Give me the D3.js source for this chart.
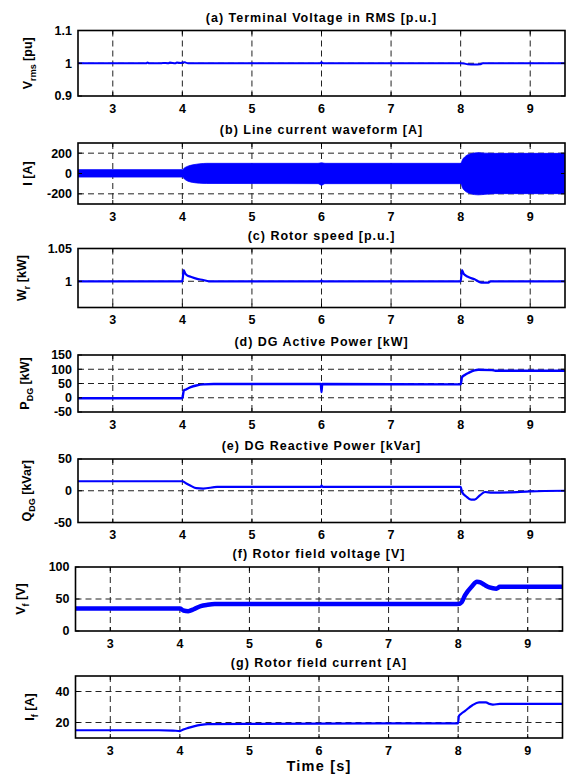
<!DOCTYPE html>
<html><head><meta charset="utf-8">
<script src="https://cdn.jsdelivr.net/npm/d3@7"></script>
<style>
body{margin:0;background:#fff}
text{font-family:"Liberation Sans",Arial,Helvetica,sans-serif;font-weight:bold;fill:#000}
</style>
</head><body>
<svg id="chart" width="569" height="777"></svg>
<script>
// ---------- data ----------
const xTicks = [3, 4, 5, 6, 7, 8, 9];
const titles = [
  "(a) Terminal Voltage in RMS [p.u.]",
  "(b) Line current waveform [A]",
  "(c) Rotor speed [p.u.]",
  "(d) DG Active Power [kW]",
  "(e) DG Reactive Power [kVar]",
  "(f) Rotor field voltage [V]",
  "(g) Rotor field current [A]"
];
const yLabels = [
  ["V", "rms", " [pu]"],
  ["I [A]", "", ""],
  ["W", "r", " [kW]"],
  ["P", "DG", " [kW]"],
  ["Q", "DG", " [kVar]"],
  ["V", "f", " [V]"],
  ["I", "f", " [A]"]
];
const yDomains = [[0.9, 1.1], [-300, 300], [0.96, 1.05], [-50, 150], [-50, 50], [0, 100], [10, 50]];
const yTicksA = [0.9, 1, 1.1];
const yTicksB = [-200, 0, 200];
const yTicksC = [1, 1.05];
const yTicksD = [-50, 0, 50, 100, 150];
const yTicksE = [-50, 0, 50];
const yTicksF = [0, 50, 100];
const yTicksG = [20, 40];
const yTickLabelsA = ["0.9", "1", "1.1"];
const yTickLabelsC = ["1", "1.05"];

// (a) terminal voltage RMS
const aT = [2.5, 3.48, 3.5, 3.52, 3.7, 3.72, 3.8, 3.82, 3.9, 3.92, 3.98, 4.0, 4.03, 4.05, 4.08, 5.98, 6.0, 6.02, 8.0, 8.05, 8.1, 8.2, 8.28, 8.32, 9.5];
const aV = [1, 1, 1.002, 1, 1, 1.001, 1, 1.002, 1, 1.002, 1.001, 1.002, 1.003, 1.002, 1, 1, 1.003, 1, 1, 0.999, 0.997, 0.996, 0.997, 1, 1];
// (b) line current waveform envelope
const bT = [2.5, 4.0, 4.03, 4.08, 4.15, 4.25, 4.35, 5.95, 6.0, 6.05, 8.0, 8.03, 8.08, 8.15, 8.25, 8.35, 8.5, 9.5];
const bUp = [38, 38, 55, 72, 85, 95, 100, 100, 105, 100, 100, 140, 175, 195, 205, 200, 198, 198];
const bLo = [-35, -35, -55, -75, -88, -95, -98, -100, -115, -100, -100, -145, -180, -200, -210, -205, -198, -198];
// (c) rotor speed
const cT = [2.5, 4.0, 4.02, 4.04, 4.07, 4.12, 4.2, 4.3, 4.38, 5.99, 6.0, 6.01, 8.0, 8.02, 8.04, 8.07, 8.12, 8.2, 8.25, 8.3, 8.4, 8.43, 9.5];
const cV = [1, 1, 1.017, 1.012, 1.009, 1.007, 1.004, 1.002, 1, 1, 1.001, 1, 1, 1.017, 1.012, 1.009, 1.006, 1.003, 1.0, 0.998, 0.998, 1.0, 1.0];
// (d) DG active power
const dT = [2.5, 4.0, 4.02, 4.06, 4.12, 4.2, 4.3, 4.45, 5.99, 6.0, 6.01, 8.0, 8.02, 8.06, 8.12, 8.2, 8.25, 8.45, 8.5, 9.5];
const dV = [-2, -2, 25, 30, 37, 43, 47, 48, 48, 20, 48, 47, 72, 80, 88, 96, 98, 97, 95, 95];
// (e) DG reactive power
const eT = [2.5, 4.0, 4.05, 4.12, 4.2, 4.3, 4.5, 5.99, 6.0, 6.02, 8.0, 8.02, 8.08, 8.15, 8.2, 8.28, 8.35, 8.45, 8.7, 9.0, 9.5];
const eV = [15, 15, 12, 8, 4, 3.5, 6, 6, 8, 6, 6, -2, -9, -14, -14, -7, -2, -3, -2.5, -1, 0];
// (f) rotor field voltage
const fT = [2.5, 4.0, 4.05, 4.12, 4.2, 4.3, 4.4, 4.5, 8.0, 8.05, 8.1, 8.2, 8.27, 8.32, 8.38, 8.45, 8.55, 8.6, 8.7, 9.5];
const fV = [35, 35, 32, 31, 34, 39, 41, 42, 42, 45, 56, 70, 77, 76, 72, 68, 66, 69, 69, 69];
// (g) rotor field current
const gT = [2.5, 3.7, 3.9, 4.0, 4.05, 4.12, 4.2, 4.3, 4.4, 6.0, 8.0, 8.01, 8.04, 8.1, 8.2, 8.3, 8.4, 8.45, 8.5, 8.6, 9.5];
const gV = [15, 15, 14.8, 14.5, 15.5, 16.5, 17.5, 18.5, 19, 19.3, 19.5, 24, 25.5, 27.5, 31, 33, 33, 32, 31.5, 32, 32];

// ---------- layout ----------
const layout = [
  {top: 30.5, bottom: 96,    left: 78,   right: 565,   ylx: 32},
  {top: 143,  bottom: 204,   left: 78,   right: 565,   ylx: 32},
  {top: 248.5,bottom: 307.5, left: 78,   right: 565,   ylx: 26},
  {top: 355,  bottom: 412,   left: 78,   right: 565,   ylx: 29},
  {top: 459,  bottom: 522.5, left: 78,   right: 565,   ylx: 31},
  {top: 567,  bottom: 631,   left: 75.5, right: 562.5, ylx: 25},
  {top: 676,  bottom: 738,   left: 75.5, right: 562.5, ylx: 34}
];
const yTickSets = [yTicksA, yTicksB, yTicksC, yTicksD, yTicksE, yTicksF, yTicksG];
const yTickLabelSets = [yTickLabelsA, null, yTickLabelsC, null, null, null, null];
const series = [
  {t: aT, v: aV, w: 2},
  {t: bT, up: bUp, lo: bLo},
  {t: cT, v: cV, w: 2.2},
  {t: dT, v: dV, w: 2.4},
  {t: eT, v: eV, w: 2.2},
  {t: fT, v: fV, w: 4.5},
  {t: gT, v: gV, w: 2.2}
];

const svg = d3.select("#chart");
svg.append("rect").attr("width", 569).attr("height", 777).attr("fill", "#fff");

layout.forEach((L, i) => {
  const x = d3.scaleLinear().domain([2.5, 9.5]).range([L.left, L.right]);
  const y = d3.scaleLinear().domain(yDomains[i]).range([L.bottom, L.top]);
  const g = svg.append("g");
  const W = L.right - L.left, H = L.bottom - L.top;

  // title
  g.append("text").attr("x", (L.left + L.right) / 2).attr("y", L.top - 9)
    .attr("text-anchor", "middle").attr("font-size", 12.5).attr("letter-spacing", 1)
    .text(titles[i]);

  // grid
  const dash = "6,4";
  g.selectAll(".vg").data(xTicks).enter().append("line")
    .attr("x1", d => x(d)).attr("x2", d => x(d)).attr("y1", L.top).attr("y2", L.bottom)
    .attr("stroke", "#222").attr("stroke-width", 1).attr("stroke-dasharray", dash);
  const yt = yTickSets[i];
  g.selectAll(".hg").data(yt.filter(d => d > yDomains[i][0] && d < yDomains[i][1])).enter().append("line")
    .attr("y1", d => y(d)).attr("y2", d => y(d)).attr("x1", L.left).attr("x2", L.right)
    .attr("stroke", "#222").attr("stroke-width", 1).attr("stroke-dasharray", dash);

  // data
  const s = series[i];
  const clipId = "clip" + i;
  svg.append("clipPath").attr("id", clipId).append("rect")
    .attr("x", L.left).attr("y", L.top).attr("width", W).attr("height", H);
  if (s.up) {
    const area = d3.area().x(d => x(d[0])).y0(d => y(d[2])).y1(d => y(d[1])).curve(d3.curveMonotoneX);
    g.append("path").datum(s.t.map((t, k) => [t, s.up[k], s.lo[k]]))
      .attr("d", area).attr("fill", "#0000ff").attr("stroke", "#0000ff").attr("stroke-width", 0.8)
      .attr("clip-path", `url(#${clipId})`);
  } else {
    const line = d3.line().x(d => x(d[0])).y(d => y(d[1])).curve(d3.curveMonotoneX);
    g.append("path").datum(s.t.map((t, k) => [t, s.v[k]]))
      .attr("d", line).attr("fill", "none").attr("stroke", "#0000ff").attr("stroke-width", s.w)
      .attr("stroke-linejoin", "round").attr("clip-path", `url(#${clipId})`);
  }

  // inner ticks
  const tl = 4;
  xTicks.forEach(t => {
    g.append("line").attr("x1", x(t)).attr("x2", x(t)).attr("y1", L.bottom).attr("y2", L.bottom - tl).attr("stroke", "#000");
    g.append("line").attr("x1", x(t)).attr("x2", x(t)).attr("y1", L.top).attr("y2", L.top + tl).attr("stroke", "#000");
  });
  yt.forEach(t => {
    g.append("line").attr("x1", L.left).attr("x2", L.left + tl).attr("y1", y(t)).attr("y2", y(t)).attr("stroke", "#000");
    g.append("line").attr("x1", L.right).attr("x2", L.right - tl).attr("y1", y(t)).attr("y2", y(t)).attr("stroke", "#000");
  });

  // box
  g.append("rect").attr("x", L.left).attr("y", L.top).attr("width", W).attr("height", H)
    .attr("fill", "none").attr("stroke", "#000").attr("stroke-width", 1.6);

  // x tick labels
  g.selectAll(".xl").data(xTicks).enter().append("text")
    .attr("x", d => x(d)).attr("y", L.bottom + 16.5).attr("text-anchor", "middle")
    .attr("font-size", 12.5).text(d => d);
  // y tick labels
  const labs = yTickLabelSets[i];
  g.selectAll(".yl").data(yt).enter().append("text")
    .attr("x", L.left - 6).attr("y", d => y(d) + 4.4).attr("text-anchor", "end")
    .attr("font-size", 12.5).text((d, k) => labs ? labs[k] : d);

  // y label
  const yl = yLabels[i];
  const lt = g.append("text")
    .attr("transform", `translate(${L.ylx},${(L.top + L.bottom) / 2}) rotate(-90)`)
    .attr("text-anchor", "middle").attr("font-size", 12.5);
  lt.append("tspan").text(yl[0]);
  if (yl[1]) {
    lt.append("tspan").attr("font-size", 9).attr("dy", 3.5).text(yl[1]);
    lt.append("tspan").attr("dy", -3.5).text(yl[2]);
  }
});

// x axis title
const Lg = layout[6];
svg.append("text").attr("x", (Lg.left + Lg.right) / 2).attr("y", 771)
  .attr("text-anchor", "middle").attr("font-size", 14.5).attr("letter-spacing", 1.2)
  .text("Time [s]");
</script>
</body></html>
